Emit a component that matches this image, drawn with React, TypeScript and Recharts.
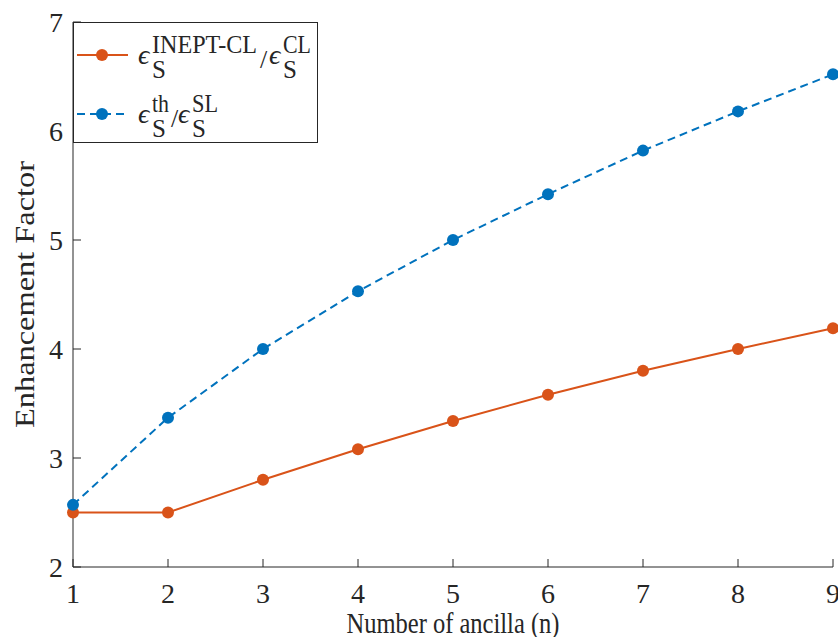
import React from "react";
import {
  LineChart,
  Line,
  XAxis,
  YAxis,
  Legend,
} from "recharts";

// number of ancilla qubits
const ancilla = [1, 2, 3, 4, 5, 6, 7, 8, 9];
// enhancement factor, INEPT-CL over CL
const ineptCl = [2.5, 2.5, 2.8, 3.08, 3.34, 3.58, 3.8, 4.0, 4.19];
// enhancement factor, theoretical over SL
const theorySl = [2.57, 3.37, 4.0, 4.53, 5.0, 5.42, 5.82, 6.18, 6.52];

const xTicks = [1, 2, 3, 4, 5, 6, 7, 8, 9];
const yTicks = [2, 3, 4, 5, 6, 7];

const data = ancilla.map((n, i) => ({ n, ineptCl: ineptCl[i], theorySl: theorySl[i] }));

const ORANGE = "#D95319";
const BLUE = "#0072BD";
const AXIS = "#262626";
const FONT = "'Liberation Serif', 'Times New Roman', serif";
const TICK_LEN = 8;
const DASH = "8 5";

const BottomTick = (props: any) => {
  const { x, y, payload } = props;
  return (
    <g>
      <line x1={x} y1={y} x2={x} y2={y - TICK_LEN} stroke={AXIS} strokeWidth={1} />
      <text x={x} y={y + 36} textAnchor="middle" fontFamily={FONT} fontSize={28} fill={AXIS}>
        {payload.value}
      </text>
    </g>
  );
};

const TopTick = (props: any) => {
  const { x, y } = props;
  return <line x1={x} y1={y} x2={x} y2={y + TICK_LEN} stroke={AXIS} strokeWidth={1} />;
};

const LeftTick = (props: any) => {
  const { x, y, payload } = props;
  return (
    <g>
      <line x1={x} y1={y} x2={x + TICK_LEN} y2={y} stroke={AXIS} strokeWidth={1} />
      <text x={x - 10} y={y + 9.5} textAnchor="end" fontFamily={FONT} fontSize={28} fill={AXIS}>
        {payload.value}
      </text>
    </g>
  );
};

const RightTick = (props: any) => {
  const { x, y } = props;
  return <line x1={x} y1={y} x2={x - TICK_LEN} y2={y} stroke={AXIS} strokeWidth={1} />;
};

const legendRows = [
  { color: ORANGE, dashed: false, sup: "INEPT-CL", supW: 105, slashX: 187, eps2X: 196, sup2: "CL", sup2W: 28 },
  { color: BLUE, dashed: true, sup: "th", supW: 17, slashX: 98, eps2X: 105, sup2: "SL", sup2W: 26 },
];

const LegendBox = () => (
  <svg width={245} height={121} style={{ display: "block" }}>
    <rect x={0.5} y={0.5} width={244} height={120} fill="#fff" stroke={AXIS} strokeWidth={1} />
    {legendRows.map((r, i) => {
      const oy = i * 59;
      return (
        <g key={i} fontFamily={FONT} fill={AXIS}>
          <line
            x1={4}
            y1={33 + oy}
            x2={55}
            y2={33 + oy}
            stroke={r.color}
            strokeWidth={2}
            strokeDasharray={r.dashed ? DASH : undefined}
          />
          <circle cx={29} cy={33 + oy} r={6} fill={r.color} />
          <text x={65} y={42 + oy} fontSize={28} fontStyle="italic">ϵ</text>
          <text x={79} y={31 + oy} fontSize={25} textLength={r.supW} lengthAdjust="spacingAndGlyphs">
            {r.sup}
          </text>
          <text x={79} y={56 + oy} fontSize={25}>S</text>
          <text x={r.slashX} y={46 + oy} fontSize={26}>/</text>
          <text x={r.eps2X} y={42 + oy} fontSize={28} fontStyle="italic">ϵ</text>
          <text x={r.eps2X + 14} y={31 + oy} fontSize={25} textLength={r.sup2W} lengthAdjust="spacingAndGlyphs">
            {r.sup2}
          </text>
          <text x={r.eps2X + 14} y={56 + oy} fontSize={25}>S</text>
        </g>
      );
    })}
  </svg>
);

export default function App() {
  return (
    <div style={{ position: "absolute", left: 0, top: 0, width: 838, height: 637, background: "#fff" }}>
      <LineChart width={838} height={637} data={data} margin={{ top: 22, right: 5, left: 0, bottom: 0 }}>
        <XAxis
          xAxisId="bottom"
          dataKey="n"
          type="number"
          domain={[1, 9]}
          ticks={xTicks}
          height={70}
          stroke={AXIS}
          tickSize={0}
          tickMargin={0}
          tick={<BottomTick />}
          label={{
            content: (p: any) => {
              const vb = p.viewBox;
              return (
                <text
                  x={vb.x + vb.width / 2}
                  y={vb.y + 66}
                  textAnchor="middle"
                  fontFamily={FONT}
                  fontSize={30}
                  textLength={213}
                  lengthAdjust="spacingAndGlyphs"
                  fill={AXIS}
                >
                  Number of ancilla (n)
                </text>
              );
            },
          }}
        />
        <XAxis
          xAxisId="top"
          orientation="top"
          dataKey="n"
          type="number"
          domain={[1, 9]}
          ticks={xTicks}
          height={0}
          stroke={AXIS}
          tickSize={0}
          tickMargin={0}
          tick={<TopTick />}
        />
        <YAxis
          yAxisId="left"
          type="number"
          domain={[2, 7]}
          ticks={yTicks}
          width={73}
          stroke={AXIS}
          tickSize={0}
          tickMargin={0}
          tick={<LeftTick />}
          label={{
            content: (p: any) => {
              const vb = p.viewBox;
              const cx = vb.x + 24;
              const cy = vb.y + vb.height / 2;
              return (
                <text
                  x={cx}
                  y={cy}
                  transform={`rotate(-90 ${cx} ${cy})`}
                  textAnchor="middle"
                  dominantBaseline="central"
                  fontFamily={FONT}
                  fontSize={28}
                  textLength={267}
                  lengthAdjust="spacingAndGlyphs"
                  fill={AXIS}
                >
                  Enhancement Factor
                </text>
              );
            },
          }}
        />
        <YAxis
          yAxisId="right"
          orientation="right"
          type="number"
          domain={[2, 7]}
          ticks={yTicks}
          width={0}
          stroke={AXIS}
          tickSize={0}
          tickMargin={0}
          tick={<RightTick />}
        />
        <Legend
          layout="vertical"
          align="center"
          verticalAlign="middle"
          wrapperStyle={{ left: 73, top: 22, width: 245, height: 121 }}
          content={() => <LegendBox />}
        />
        <Line
          xAxisId="bottom"
          yAxisId="left"
          dataKey="ineptCl"
          type="linear"
          stroke={ORANGE}
          strokeWidth={2}
          dot={{ r: 6, fill: ORANGE, stroke: ORANGE, strokeWidth: 0 }}
          activeDot={false}
          isAnimationActive={false}
        />
        <Line
          xAxisId="bottom"
          yAxisId="left"
          dataKey="theorySl"
          type="linear"
          stroke={BLUE}
          strokeWidth={2}
          strokeDasharray={DASH}
          dot={{ r: 6, fill: BLUE, stroke: BLUE, strokeWidth: 0, strokeDasharray: "" }}
          activeDot={false}
          isAnimationActive={false}
        />
      </LineChart>
    </div>
  );
}
